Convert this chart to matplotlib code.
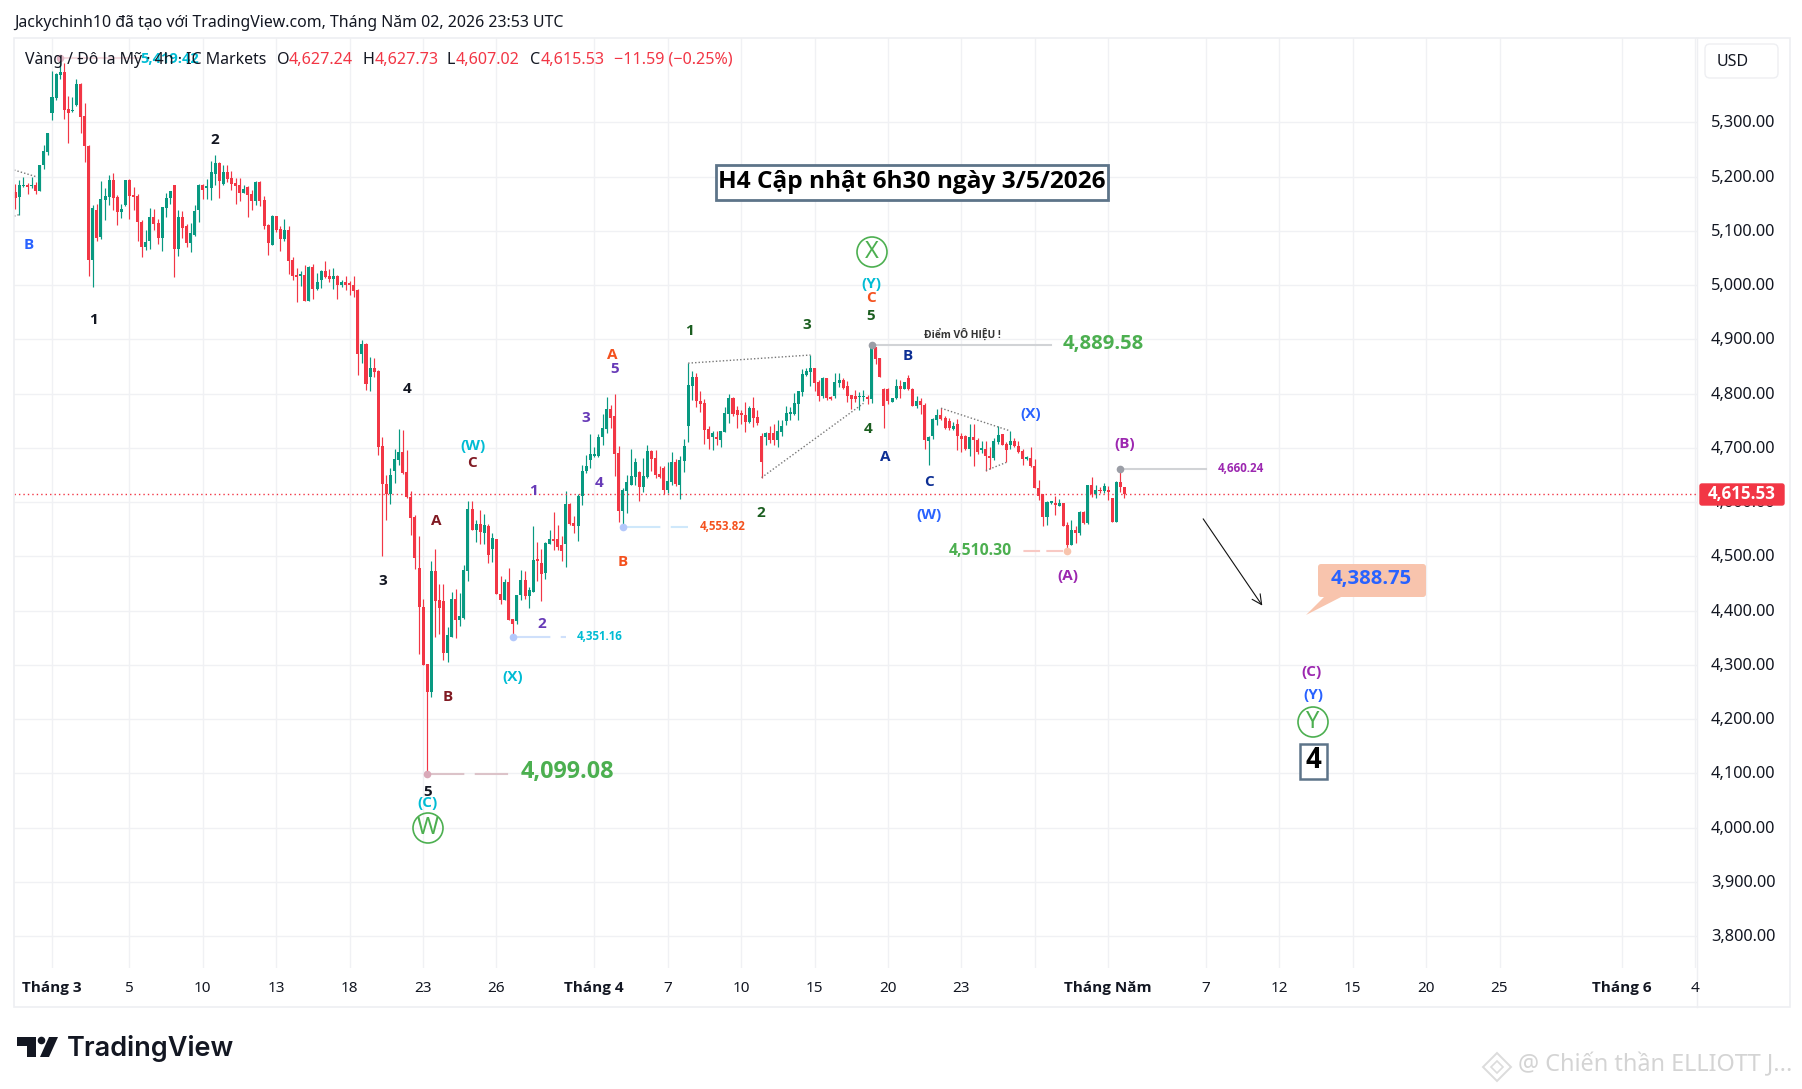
import numpy as np
import matplotlib
matplotlib.use("Agg")
import matplotlib.pyplot as plt
from matplotlib.patches import Circle, Rectangle, FancyBboxPatch, Polygon

W, H = 1802, 1089
RED, GREEN = "#f23645", "#089981"
GRID = "#f0f1f4"

opens = [5171,5162,5182,5184,5182,5184,5174,5221,5246,5317,5344,5387,5392,5324,5320,5331,5370,5311,5257,5047,5139,5088,5156,5163,5193,5162,5134,5147,5193,5165,5165,5117,5071,5082,5126,5115,5086,5142,5160,5184,5066,5126,5108,5078,5093,5138,5184,
5179,5179,5205,5225,5186,5208,5197,5188,5184,5169,5180,5167,5155,5190,5156,5110,5074,5127,5103,5085,5101,5046,5017,5017,5018,4971,5033,4993,5009,5026,5017,5011,5017,5000,5006,5002,5000,4991,4873,4891,4831,4847,
4842,4703,4634,4614,4657,4677,4692,4655,4610,4572,4478,4407,4302,4250,4472,4420,4417,4322,4352,4422,4382,4387,4472,4588,4548,4559,4542,4555,4513,4531,4431,4420,4452,4385,4380,4428,4457,4426,4435,4494,4487,4470,4522,4531,4531,4521,4522,4596,4561,4555,4612,4657,4677,
4685,4685,4719,4735,4772,4759,4691,4584,4621,4632,4647,4656,4628,4647,4694,4682,4652,4663,4623,4637,4674,4632,4676,4740,4814,4831,4786,4783,4735,4720,4720,4715,4729,4763,4792,4770,4763,4761,4748,4774,4757,
4722,4720,4728,4728,4715,4730,4750,4763,4763,4781,4802,4834,4839,4847,4821,4796,4829,4792,4796,4820,4825,4813,4797,4795,4793,4793,4794,4789,4885,4865,4809,4809,4785,4791,4814,4809,4829,4809,4777,4787,4779,4713,4722,4752,4761,4754,4750,4734,4744,4722,4722,4698,4720,4715,4696,4698,4685,4681,4711,4725,4707,4706,4713,4704,4694,4680,4682,4667,4626,4614,4572,4599,4598,4593,4598,4558,4521,4549,4542,4581,4561,4631,4614,4623,4620,4620,4607,4563,4637,4627.24]
highs = [5187,5193,5200,5188,5200,5190,5222,5258,5281,5394,5391,5419,5410,5348,5347,5379,5373,5335,5258,5147,5149,5191,5178,5202,5206,5166,5150,5193,5195,5181,5168,5119,5101,5142,5141,5122,5143,5170,5174,5184,5139,5136,5113,5115,5147,5186,5186,
5195,5228,5239,5226,5222,5221,5210,5197,5197,5184,5182,5175,5191,5191,5164,5112,5129,5127,5109,5121,5109,5052,5031,5026,5037,5035,5039,5022,5028,5044,5029,5031,5018,5009,5017,5007,5017,4993,4899,4893,4867,4866,
4843,4719,4649,4662,4698,4735,4733,4695,4621,4577,4537,4421,4302,4492,4513,4448,4448,4369,4434,4440,4433,4483,4601,4601,4566,4585,4578,4560,4543,4532,4463,4458,4479,4385,4429,4474,4472,4444,4555,4527,4514,4527,4549,4581,4557,4538,4620,4599,4575,4615,4668,4686,4725,
4702,4725,4762,4793,4779,4800,4704,4625,4650,4698,4682,4658,4682,4705,4696,4696,4667,4667,4673,4693,4679,4685,4717,4856,4842,4838,4805,4790,4740,4731,4731,4731,4775,4799,4793,4777,4770,4785,4777,4794,4770,
4727,4729,4741,4744,4752,4752,4777,4776,4801,4805,4845,4847,4871,4847,4825,4830,4829,4795,4837,4837,4828,4824,4798,4807,4802,4807,4798,4889.58,4885,4865,4810,4810,4792,4827,4825,4822,4834,4810,4795,4791,4782,4721,4755,4771,4773,4759,4755,4748,4753,4727,4724,4744,4744,4718,4712,4713,4702,4718,4741,4725,4710,4731,4718,4712,4698,4685,4701,4680,4641,4614,4601,4601,4612,4605,4599,4564,4566,4555,4584,4583,4632,4647,4632,4627,4635,4629,4607,4638,4660.24,4627.73]
lows = [5141,5130,5181,5167,5179,5167,5173,5214,5239,5304,5341,5379,5306,5262,5319,5330,5280,5226,5016,4996,5082,5084,5120,5147,5138,5110,5123,5145,5121,5138,5082,5051,5065,5067,5101,5075,5062,5125,5149,5014,5054,5087,5071,5060,5091,5117,5158,
5158,5156,5184,5160,5184,5190,5175,5149,5155,5169,5125,5138,5147,5145,5103,5055,5074,5098,5063,5081,5020,5009,4969,4998,4971,4971,4974,4991,4994,5013,5006,4993,4974,4996,4991,4982,4978,4834,4856,4807,4805,4831,
4686,4501,4566,4596,4635,4668,4652,4608,4540,4477,4319,4300,4099.08,4240,4351,4356,4309,4306,4352,4350,4372,4385,4455,4548,4527,4522,4523,4487,4489,4430,4412,4420,4382,4351.16,4375,4420,4422,4404,4435,4455,4418,4459,4522,4511,4511,4492,4481,4558,4543,4529,4594,4653,4663,
4683,4683,4705,4728,4737,4648,4563,4553.82,4580,4632,4632,4601,4619,4645,4658,4644,4645,4615,4617,4632,4630,4606,4656,4711,4788,4775,4766,4707,4698,4696,4705,4702,4729,4746,4759,4737,4744,4729,4745,4739,4742,
4645,4706,4709,4706,4701,4722,4742,4752,4761,4752,4795,4833,4813,4804,4787,4791,4788,4788,4791,4812,4808,4785,4772,4785,4770,4786,4780,4783,4855,4831,4737,4781,4784,4789,4791,4808,4807,4777,4774,4762,4698,4669,4717,4742,4752,4735,4733,4732,4695,4693,4695,4685,4666,4688,4690,4658,4661,4677,4707,4705,4673,4698,4702,4690,4669,4678,4664,4625,4604,4556,4558,4597,4577,4592,4555,4510.3,4520,4525,4540,4560,4560,4609,4607,4616,4617,4604,4563,4563,4619,4607.02]
closes = [5160,5184,5184,5180,5184,5174,5222,5248,5280,5346,5389,5392,5322,5318,5322,5370,5309,5256,5047,5142,5086,5158,5165,5193,5160,5134,5141,5193,5164,5163,5116,5071,5080,5126,5113,5086,5143,5161,5174,5066,5126,5106,5078,5096,5136,5184,5176,
5180,5208,5225,5192,5208,5195,5186,5182,5169,5177,5166,5155,5190,5155,5109,5077,5127,5101,5085,5101,5044,5017,5015,5018,4971,5033,4993,5006,5026,5015,5011,5017,5000,5006,5000,5000,4989,4873,4891,4818,4847,4840,
4702,4633,4614,4649,4679,4692,4654,4609,4570,4497,4406,4300,4249,4472,4418,4404,4322,4354,4422,4382,4389,4474,4588,4548,4559,4544,4557,4503,4533,4430,4420,4452,4382,4376,4429,4457,4426,4437,4494,4492,4468,4524,4531,4529,4518,4509,4596,4559,4555,4612,4658,4666,4688,
4686,4720,4737,4772,4755,4689,4584,4623,4636,4648,4674,4628,4648,4694,4680,4650,4647,4623,4639,4674,4634,4678,4704,4816,4831,4786,4781,4733,4717,4728,4716,4731,4764,4792,4763,4761,4761,4748,4774,4755,4746,
4673,4728,4715,4715,4731,4741,4764,4765,4782,4804,4836,4842,4847,4820,4796,4829,4791,4790,4821,4825,4810,4796,4790,4790,4794,4794,4789,4887,4864,4831,4777,4786,4792,4814,4809,4821,4808,4777,4787,4778,4714,4720,4753,4761,4753,4737,4737,4741,4721,4717,4698,4720,4715,4693,4698,4684,4682,4713,4724,4706,4695,4713,4704,4693,4680,4682,4666,4625,4612,4572,4600,4600,4594,4598,4556,4521,4549,4542,4581,4562,4631,4614,4622,4620,4630,4619,4563,4637,4627,4615.53]

n = min(len(opens), len(highs), len(lows), len(closes))
o, h, l, c = [np.array(a[:n], float) for a in (opens, highs, lows, closes)]

price_ticks = [5300, 5200, 5100, 5000, 4900, 4800, 4700, 4600, 4500, 4400, 4300, 4200, 4100, 4000, 3900, 3800]
time_ticks = [9, 28, 46, 64, 82, 100, 118, 142, 160, 178, 196, 214, 232, 268, 292, 310, 328, 346, 364, 394, 412]
time_labels = ["Tháng 3", "5", "10", "13", "18", "23", "26", "Tháng 4", "7", "10", "15", "20", "23",
               "Tháng Năm", "7", "12", "15", "20", "25", "Tháng 6", "4"]
extra_grid = [250]
last_price = 4615.53

DASH = (0, (16, 5))
# bar, price, end bar, marker colour, line colour, line style
levels = [
    (101, 4099.08, 121, "#d9a9b8", "#dcc3c9", DASH),
    (122, 4351.16, 135, "#b3c8fb", "#cfe0fb", DASH),
    (149, 4553.82, 165, "#b3c8fb", "#cfe8fb", DASH),
    (210, 4889.58, 254, "#9b9ea6", "#d1d3d6", "-"),
    (271, 4660.24, 292, "#9b9ea6", "#d1d3d6", "-"),
    (258, 4510.30, 247, "#f8c4ad", "#f8c9c4", (0, (8, 3))),
    (11, 5419.42, 30, "#e2b8c6", "#f3d9df", "-"),
]
dotted = [
    ((165, 195), (4856, 4871)), ((183, 208), (4645, 4782)),
    ((227, 244), (4773, 4731)), ((238, 243), (4658, 4673)),
    ((-0.3, 5), (5212, 5200)), ((-0.3, 1), (5127, 5130)),
]
arrow = ((291.3, 4569), (305.8, 4409))

fig = plt.figure(figsize=(W / 100, H / 100), dpi=100, facecolor="white")
L, R, T, B = 14, 1697, 38, 968
ax = fig.add_axes([L / W, 1 - B / H, (R - L) / W, (B - T) / H])
ax.set_xlim(-0.32, 412.4)
ax.set_ylim(3741, 5455.4)
for s in ax.spines.values():
    s.set_visible(False)
ax.set_xticks(time_ticks + extra_grid)
ax.set_yticks(price_ticks)
ax.tick_params(length=0, labelbottom=False, labelleft=False)
ax.grid(True, color=GRID, lw=1.0)
ax.set_axisbelow(True)

x = np.arange(n)
cols = np.where(c >= o, GREEN, RED)
ax.vlines(x, l, h, colors=cols, lw=0.85, zorder=2)
ax.bar(x, np.maximum(np.abs(c - o), 3.0), bottom=np.minimum(o, c), width=0.74, color=cols, linewidth=0, zorder=3)

ax.axhline(last_price, color=RED, lw=1.0, ls=(0, (1, 2.2)), zorder=2.5)

for (x0, p, x1, mc, lc, ls) in levels:
    ax.plot([x0 + 1 if x1 > x0 else x0 - 1, x1], [p, p], color=lc, lw=1.5, ls=ls, zorder=4)
    ax.plot([x0], [p], "o", ms=5.5, color=mc, mew=0, zorder=5)
for xs, ys in dotted:
    ax.plot(xs, ys, color="#777777", lw=1.0, ls=(0, (1, 1.5)), zorder=4)
ax.annotate("", xy=arrow[1], xytext=arrow[0],
            arrowprops=dict(arrowstyle="->,head_length=0.7,head_width=0.35", color="#111111", lw=0.8, shrinkA=0, shrinkB=0))

# overlay in pixel space for chart furniture
ov = fig.add_axes([0, 0, 1, 1], facecolor="none", zorder=10)
ov.set_xlim(0, W)
ov.set_ylim(H, 0)
ov.axis("off")

FONT = "Noto Sans"
BOLD = "Open Sans"
TV = "DejaVu Sans"

def txt(xp, yp, s, color="#131722", size=10, weight="normal", ha="center", family=FONT, z=12):
    return ov.text(xp, yp, s, color=color, fontsize=size, fontweight=weight, ha=ha, va="center",
                   family=family, zorder=z)

# frame
ov.add_patch(Rectangle((14, 38), 1776, 969, fill=False, ec="#eeeff2", lw=1.2))
ov.plot([1697, 1697], [38, 1007], color="#eeeff2", lw=1.0)

# axis labels
p2y = lambda p: 122.3 + (5300 - p) * 0.5425
for p in price_ticks:
    txt(1743, p2y(p) + 1, f"{p:,.2f}", size=11.8, z=9)
i2x = lambda i: 15.3 + 4.077 * i
for t, s in zip(time_ticks, time_labels):
    if s.startswith("Tháng"):
        txt(i2x(t), 988, s, size=11, weight="bold", family=BOLD)
    else:
        txt(i2x(t), 988, s, size=11)

# header
txt(14, 23, "Jackychinh10 đã tạo với TradingView.com, Tháng Năm 02, 2026 23:53 UTC", ha="left", size=11.45)
txt(170, 59, "5,419.42", color="#00bcd4", size=10.5, weight="bold", family=BOLD, z=11)
txt(25, 60, "Vàng / Đô la Mỹ · 4h · IC Markets", ha="left", size=11.45)
hdr = [(277, "O", "#131722"), (289, "4,627.24", RED), (363, "H", "#131722"), (375, "4,627.73", RED),
       (447, "L", "#131722"), (456, "4,607.02", RED), (530, "C", "#131722"), (541, "4,615.53", RED),
       (614, "−11.59 (−0.25%)", RED)]
for xp, s, col in hdr:
    txt(xp, 60, s, color=col, ha="left", size=11.6)

# USD box
ov.add_patch(FancyBboxPatch((1705, 44), 73, 34, boxstyle="round,pad=0,rounding_size=5", fc="white", ec="#eeeff2", lw=1))
txt(1733, 62, "USD", size=11.5)

# price tag
ov.add_patch(FancyBboxPatch((1700, 484), 84, 21, boxstyle="round,pad=0,rounding_size=2", fc=RED, ec=RED, lw=1, zorder=11))
txt(1742, 494, "4,615.53", color="white", size=12.2, weight="bold", family=BOLD)

# title box
ov.add_patch(Rectangle((716, 165), 392, 35, fc="white", ec="#5d7489", lw=2, zorder=11))
txt(912, 182, "H4 Cập nhật 6h30 ngày 3/5/2026", color="black", size=17.6, weight="bold", family=BOLD)

# wave labels: x, y, text, colour
BL = "#2962ff"; CY = "#00bcd4"; MA = "#801922"; PU = "#673ab7"; OR = "#f4511e"
DG = "#1b5e20"; NV = "#0d2f94"; VI = "#9c27b0"; BK = "#131722"
labels = [
    (29, 245, "B", BL), (60, 31, "C", BL), (215, 140, "2", BK), (93, 320, "1", BK), (407, 389, "4", BK),
    (383, 581, "3", BK), (428, 792, "5", BK), (428, 803, "(C)", CY),
    (473, 446, "(W)", CY), (472, 463, "C", MA), (436, 521, "A", MA), (448, 697, "B", MA),
    (534, 491, "1", PU), (542, 624, "2", PU), (586, 418, "3", PU), (599, 483, "4", PU), (615, 369, "5", PU),
    (612, 355, "A", OR), (623, 562, "B", OR), (513, 677, "(X)", CY),
    (689, 331, "1", DG), (761, 513, "2", DG), (807, 325, "3", DG), (868, 429, "4", DG), (871, 316, "5", DG),
    (871, 298, "C", OR), (871, 284, "(Y)", CY),
    (908, 356, "B", NV), (885, 457, "A", NV), (929, 482, "C", NV),
    (929, 515, "(W)", BL), (1031, 414, "(X)", BL), (1125, 444, "(B)", VI), (1068, 576, "(A)", VI),
    (1312, 672, "(C)", VI), (1313, 695, "(Y)", BL),
]
for xp, yp, s, col in labels:
    t = txt(xp, yp, s, color=col, size=11, weight="bold", family=BOLD)
    if yp < 40:
        t.set_clip_on(True)
        t.set_clip_box(ax.bbox)

# circled wave marks
for xp, yp, s in [(428, 828, "W"), (872, 252, "X"), (1313, 722, "Y")]:
    ov.add_patch(Circle((xp, yp), 15, fill=False, ec="#4caf50", lw=1.2, zorder=11))
    txt(xp, yp, s, color="#4caf50", size=17)

# boxed 4
ov.add_patch(Rectangle((1300, 744), 27, 35, fc="white", ec="#5d7489", lw=1.8, zorder=11))
txt(1313.5, 761, "4", color="black", size=20, weight="bold", family=BOLD)

# level labels
GR = "#4caf50"
txt(567, 772, "4,099.08", color=GR, size=16.8, weight="bold", family=BOLD)
txt(1103, 344, "4,889.58", color=GR, size=14.6, weight="bold", family=BOLD)
txt(980, 551, "4,510.30", color=GR, size=11.3, weight="bold", family=BOLD)
txt(600, 637, "4,351.16", color=CY, size=8.3, weight="bold", family=BOLD)
txt(723, 527, "4,553.82", color=OR, size=8.3, weight="bold", family=BOLD)
txt(1241, 468, "4,660.24", color=VI, size=8.3, weight="bold", family=BOLD)
txt(962, 335, "Điểm VÔ HIỆU !", color="#333333", size=7.4, weight="bold", family=BOLD)

# callout
ov.add_patch(Polygon([(1326, 595), (1345, 595), (1306, 615)], fc="#f8c4ad", ec="none", zorder=11))
ov.add_patch(FancyBboxPatch((1318, 564), 108, 33, boxstyle="round,pad=0,rounding_size=3", fc="#f8c4ad", ec="none", zorder=11))
txt(1371, 579, "4,388.75", color=BL, size=14.6, weight="bold", family=BOLD)

# TradingView logo
ov.add_patch(Polygon([(17, 1037), (36, 1037), (36, 1057), (27, 1057), (27, 1046), (17, 1046)], fc="#131722", ec="none"))
ov.add_patch(Circle((41.5, 1040.5), 3.8, fc="#131722", ec="none"))
ov.add_patch(Polygon([(49, 1037), (58, 1037), (49, 1057), (40, 1057)], fc="#131722", ec="none"))
txt(67, 1048, "TradingView", ha="left", size=19.5, weight="semibold", family="Inter")

# watermark
ov.add_patch(Polygon([(1483, 1067), (1497, 1053), (1511, 1067), (1497, 1081)], fc="none", ec="#dcdcdc", lw=1.4))
ov.add_patch(Polygon([(1491, 1067), (1497, 1061), (1503, 1067), (1497, 1073)], fc="none", ec="#dcdcdc", lw=1.2))
txt(1518, 1065, "@ Chiến thần ELLIOTT J...", ha="left", size=16.9, color="#d4d4d4")

fig.savefig("out.png", dpi=100, facecolor="white")
